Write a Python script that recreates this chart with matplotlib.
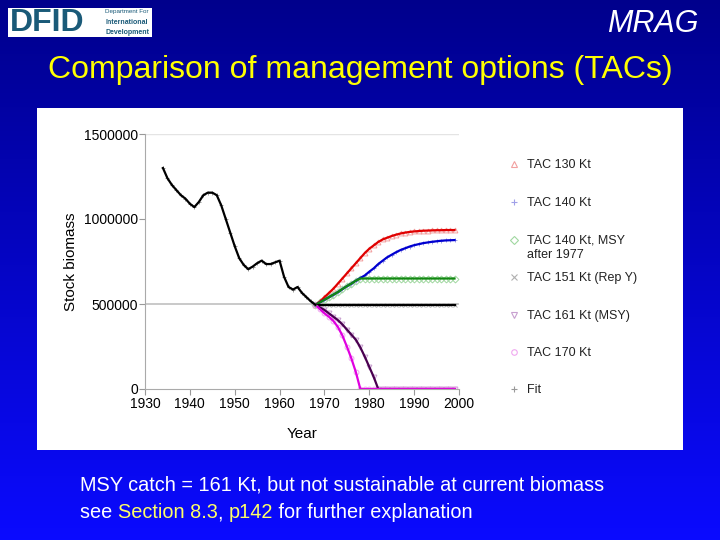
import numpy as np
import matplotlib.pyplot as plt
from matplotlib.patches import Rectangle
from matplotlib.lines import Line2D

plt.rcParams['font.family'] = ['Liberation Sans', 'DejaVu Sans']

# 历史拟合 (Fit)
fit_years = list(range(1934, 1969))
fit_vals = [1300000, 1240000, 1200000, 1170000, 1140000, 1120000, 1090000, 1070000,
            1100000, 1140000, 1155000, 1155000, 1140000, 1080000, 1000000, 920000,
            840000, 770000, 730000, 705000, 720000, 740000, 755000, 735000, 735000,
            745000, 755000, 660000, 600000, 585000, 600000, 565000, 540000, 515000,
            495000]

# 预测 1968-1999
proj_years = list(range(1968, 2000))
tac130 = [495000, 515000, 540000, 565000, 590000, 620000, 650000, 680000, 710000, 740000,
          770000, 800000, 825000, 845000, 865000, 880000, 890000, 900000, 908000, 915000,
          920000, 924000, 927000, 929000, 931000, 932000, 933000, 934000, 934000, 935000,
          935000, 935000]
tac140 = [495000, 510000, 525000, 540000, 555000, 570000, 588000, 605000, 620000, 637000,
          653000, 668000, 690000, 710000, 735000, 755000, 775000, 790000, 805000, 818000,
          828000, 838000, 846000, 852000, 858000, 862000, 866000, 869000, 872000, 874000,
          875000, 876000]
tac140_msy = tac140[:10] + [650000] * 22
tac151 = [495000] * 32
tac161 = [495000, 480000, 465000, 445000, 425000, 405000, 380000, 350000, 320000, 290000,
          245000, 190000, 130000, 70000] + [0] * 18
tac170 = [495000, 470000, 445000, 425000, 400000, 365000, 315000, 250000, 180000, 100000] + [0] * 22

labels = ['TAC 130 Kt', 'TAC 140 Kt', 'TAC 140 Kt, MSY\nafter 1977', 'TAC 151 Kt (Rep Y)',
          'TAC 161 Kt (MSY)', 'TAC 170 Kt', 'Fit']

fig = plt.figure(figsize=(7.2, 5.4), dpi=100)

# 蓝色渐变背景
bg = fig.add_axes([0, 0, 1, 1])
grad = np.linspace(0, 1, 256).reshape(-1, 1)
top = np.array([0.0, 0.0, 0.55])
bot = np.array([0.04, 0.04, 1.0])
img = top + grad[..., None] * (bot - top)
bg.imshow(img, aspect='auto', extent=[0, 1, 0, 1])
bg.axis('off')

# 白色面板
fig.patches.append(Rectangle((37 / 720, 1 - 450 / 540), 646 / 720, 342 / 540,
                             transform=fig.transFigure, facecolor='white',
                             edgecolor='none', zorder=1))

# logo
fig.patches.append(Rectangle((8 / 720, 1 - 37 / 540), 144 / 720, 29 / 540,
                             transform=fig.transFigure, facecolor='white',
                             edgecolor='none', zorder=1))
fig.text(10 / 720, 1 - 23 / 540, 'DFID', color='#1a5a78', fontsize=23, fontweight='bold',
         va='center', ha='left')
fig.text(105 / 720, 1 - 12 / 540, 'Department For', color='#1a5a78', fontsize=4.5, va='center')
fig.text(105 / 720, 1 - 22 / 540, 'International', color='#1a5a78', fontsize=5,
         fontweight='bold', va='center')
fig.text(105 / 720, 1 - 32 / 540, 'Development', color='#1a5a78', fontsize=5,
         fontweight='bold', va='center')
fig.text(653 / 720, 1 - 24 / 540, 'MRAG', color='white', fontsize=22, style='italic',
         va='center', ha='center')

fig.text(360 / 720, 1 - 70 / 540, 'Comparison of management options (TACs)', color='#ffff00',
         fontsize=23, ha='center', va='center')

# 图表
ax = fig.add_axes([145 / 720, 1 - 389 / 540, 314 / 720, 255 / 540], zorder=2)
ax.set_facecolor('white')
ax.set_xlim(1930, 2000)
ax.set_ylim(0, 1500000)
ax.set_xticks(range(1930, 2001, 10))
ax.set_yticks([0, 500000, 1000000, 1500000])
ax.set_yticklabels(['0', '500000', '1000000', '1500000'])
ax.tick_params(labelsize=10, color='#999999', length=4, pad=1)
ax.tick_params(axis='x', pad=2)
for s in ['top', 'right']:
    ax.spines[s].set_visible(False)
for s in ['left', 'bottom']:
    ax.spines[s].set_color('#aaaaaa')
ax.axhline(1500000, color='#e4e4e4', lw=1, zorder=0)
ax.axhline(500000, color='#c0c0c0', lw=1.2, zorder=0)
ax.set_ylabel('Stock biomass', fontsize=11, labelpad=4)
ax.set_xlabel('Year', fontsize=11, labelpad=11)

series = [
    (tac130, '#e00000', '^', '#f2a0a0'),
    (tac140, '#0000d0', '+', '#a0a0e8'),
    (tac140_msy, '#118811', 'D', '#a0d8a0'),
    (tac151, '#000000', 'x', '#b0b0b0'),
    (tac161, '#4a0050', 'v', '#c8a0d0'),
    (tac170, '#e000e0', 'o', '#f0a8f0'),
]
for vals, col, mk, mcol in series:
    ax.plot(proj_years, vals, ls='none', marker=mk, ms=3.5, mfc='none', mec=mcol, mew=0.7)
for vals, col, mk, mcol in series:
    ax.plot(proj_years, vals, color=col, lw=1.6)
ax.plot(fit_years, fit_vals, ls='none', marker='+', ms=3.5, mec='#999999', mew=0.7)
ax.plot(fit_years, fit_vals, color='black', lw=1.6)

# 图例
leg_marks = [s[2] for s in series] + ['+']
leg_cols = [s[3] for s in series] + ['#999999']
leg_y = [164, 202, 240, 277, 315, 352, 389]
for lab, mk, mc, yy in zip(labels, leg_marks, leg_cols, leg_y):
    fig.add_artist(Line2D([514 / 720], [1 - yy / 540], marker=mk, ms=4, mfc='none',
                          mec=mc, mew=0.8, ls='none', transform=fig.transFigure, zorder=3))
    fig.text(527 / 720, 1 - (yy - 5) / 540, lab, fontsize=9, color='#222222',
             va='top', ha='left', linespacing=1.2, zorder=3)

# 底部说明
fs = 14.3
fig.text(80 / 720, 1 - 485 / 540, 'MSY catch = 161 Kt, but not sustainable at current biomass',
         color='white', fontsize=fs, va='center')
fig.canvas.draw()
r = fig.canvas.get_renderer()
t1 = fig.text(80 / 720, 1 - 513 / 540, 'see ', color='white', fontsize=fs, va='center')
x1 = t1.get_window_extent(r).x1 / fig.bbox.width
t2 = fig.text(x1, 1 - 513 / 540, 'Section 8.3', color='#ffff66', fontsize=fs, va='center')
x2 = t2.get_window_extent(r).x1 / fig.bbox.width
t3 = fig.text(x2, 1 - 513 / 540, ', ', color='white', fontsize=fs, va='center')
x3 = t3.get_window_extent(r).x1 / fig.bbox.width
t4 = fig.text(x3, 1 - 513 / 540, 'p142', color='#ffff66', fontsize=fs, va='center')
x4 = t4.get_window_extent(r).x1 / fig.bbox.width
fig.text(x4, 1 - 513 / 540, ' for further explanation', color='white', fontsize=fs, va='center')

fig.savefig('out.png', dpi=100)
